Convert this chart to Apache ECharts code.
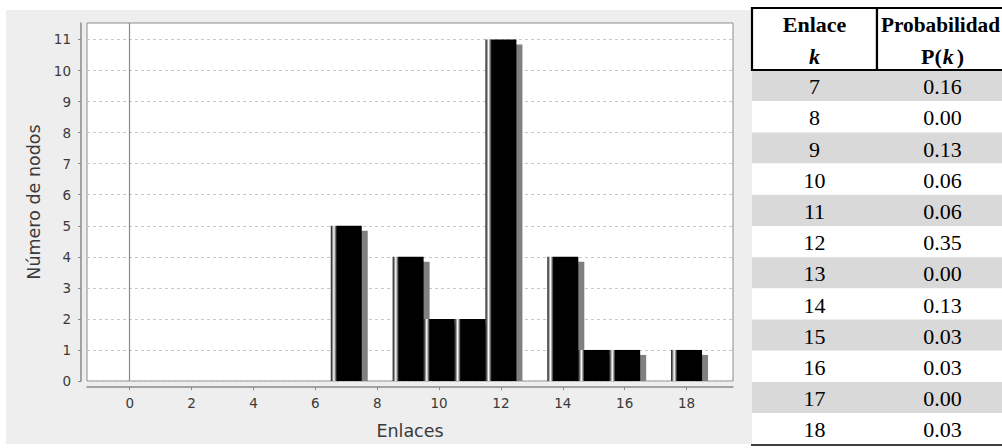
<!DOCTYPE html>
<html>
<head>
<meta charset="utf-8">
<script src="https://cdn.jsdelivr.net/npm/echarts@6/dist/echarts.min.js"></script>
<style>
html,body{margin:0;padding:0;background:#fff;}
#chart{width:1002px;height:448px;}
</style>
</head>
<body>
<div id="chart"></div>
<script>
// ---- data ----
const enlaces = [7, 8, 9, 10, 11, 12, 13, 14, 15, 16, 17, 18];
const nodos = [5, 0, 4, 2, 2, 11, 0, 4, 1, 1, 0, 1];
const probabilidad = ['0.16', '0.00', '0.13', '0.06', '0.06', '0.35', '0.00', '0.13', '0.03', '0.03', '0.00', '0.03'];
const xTickLabels = [0, 2, 4, 6, 8, 10, 12, 14, 16, 18];
const yTickLabels = [0, 1, 2, 3, 4, 5, 6, 7, 8, 9, 10, 11];
const headerEnlace = ['Enlace', 'k'];
const headerProb = ['Probabilidad', 'P(k)'];

const chart = echarts.init(document.getElementById('chart'), null, { renderer: 'svg' });

const axisColor = '#8a8a8a';
const textColor = '#3a3a3a';
const sans = 'DejaVu Sans';
const serif = 'Liberation Serif';

// table layout
const tX0 = 752, tCol1 = 125, tCol2 = 131, tTop = 8, tHeadH = 62, rowH = 31.2;
const tRowTop = tTop + tHeadH;
const c1 = tX0 + tCol1 / 2, c2 = tX0 + tCol1 + tCol2 / 2;

const tableEls = [];
enlaces.forEach((k, i) => {
  const y = tRowTop + i * rowH;
  tableEls.push({ type: 'rect', z: 1, shape: { x: tX0, y: y, width: tCol1 + tCol2, height: rowH },
    style: { fill: i % 2 === 0 ? '#d9d9d9' : '#ffffff' } });
  tableEls.push({ type: 'text', z: 3, x: c1, y: y + rowH / 2 + 1,
    style: { text: String(k), fill: '#000', font: '22px "' + serif + '"', align: 'center', verticalAlign: 'middle' } });
  tableEls.push({ type: 'text', z: 3, x: c2, y: y + rowH / 2 + 1,
    style: { text: probabilidad[i], fill: '#000', font: '22px "' + serif + '"', align: 'center', verticalAlign: 'middle' } });
});
tableEls.push({ type: 'rect', z: 2, shape: { x: tX0, y: tTop, width: tCol1, height: tHeadH },
  style: { fill: '#fff', stroke: '#000', lineWidth: 2.2 } });
tableEls.push({ type: 'rect', z: 2, shape: { x: tX0 + tCol1, y: tTop, width: tCol2, height: tHeadH },
  style: { fill: '#fff', stroke: '#000', lineWidth: 2.2 } });
tableEls.push({ type: 'text', z: 3, x: c1, y: 24.5,
  style: { text: headerEnlace[0], fill: '#000', font: 'bold 22px "' + serif + '"', align: 'center', verticalAlign: 'middle' } });
tableEls.push({ type: 'text', z: 3, x: c1, y: 56,
  style: { text: headerEnlace[1], fill: '#000', font: 'italic bold 22px "' + serif + '"', align: 'center', verticalAlign: 'middle' } });
tableEls.push({ type: 'text', z: 3, x: 940.5, y: 24.5,
  style: { text: headerProb[0], fill: '#000', font: 'bold 21.3px "' + serif + '"', align: 'center', verticalAlign: 'middle' } });
tableEls.push({ type: 'text', z: 3, x: c2, y: 56,
  style: { text: '{b|P(}{i|k}{b|)}', align: 'center', verticalAlign: 'middle',
    rich: {
      b: { fontFamily: serif, fontWeight: 'bold', fontSize: 22, fill: '#000', color: '#000' },
      i: { fontFamily: serif, fontWeight: 'bold', fontStyle: 'italic', fontSize: 22, fill: '#000', color: '#000', padding: [0, 3, 0, 1] }
    } } });
tableEls.push({ type: 'line', z: 3, shape: { x1: tX0 - 1, y1: 445, x2: 1002, y2: 445 },
  style: { stroke: '#000', lineWidth: 1.5 } });

const option = {
  animation: false,
  backgroundColor: '#ffffff',
  graphic: {
    elements: [
      { type: 'rect', z: -100, shape: { x: 6, y: 10, width: tX0 - 6, height: 434 }, style: { fill: '#eeeeee' } },
      { type: 'group', children: tableEls }
    ]
  },
  grid: {
    show: true, left: 87, right: 269, top: 23, bottom: 67,
    backgroundColor: '#ffffff', borderColor: '#8c8c8c', borderWidth: 1
  },
  xAxis: {
    type: 'value', min: -1.38, max: 19.5, offset: 6,
    name: 'Enlaces', nameLocation: 'middle', nameGap: 35,
    nameTextStyle: { fontFamily: sans, fontSize: 17.5, color: textColor },
    axisLine: { show: true, onZero: false, lineStyle: { color: axisColor, width: 1.5 } },
    axisTick: { show: true, length: 3, customValues: xTickLabels, lineStyle: { color: axisColor } },
    axisLabel: { customValues: xTickLabels, margin: 9, fontFamily: sans, fontSize: 13.5, color: textColor },
    splitLine: { show: false }
  },
  yAxis: {
    type: 'value', min: 0, max: 11.53, offset: 6,
    name: 'Número de nodos', nameLocation: 'middle', nameGap: 38, nameRotate: 90,
    nameTextStyle: { fontFamily: sans, fontSize: 17.5, color: textColor },
    axisLine: { show: true, onZero: false, lineStyle: { color: axisColor, width: 1.5 } },
    axisTick: { show: true, length: 3, customValues: yTickLabels, lineStyle: { color: axisColor } },
    axisLabel: { customValues: yTickLabels, margin: 10, fontFamily: sans, fontSize: 13.5, color: textColor },
    splitLine: { show: true, lineStyle: { color: '#c8c8c8', type: [3, 3], width: 1 } }
  },
  series: [{
    type: 'custom',
    name: 'Número de nodos',
    data: enlaces.map((k, i) => [k, nodos[i]]),
    renderItem: function (params, api) {
      const k = api.value(0), v = api.value(1);
      if (!v) return null;
      const tl = api.coord([k - 0.5, v]);
      const br = api.coord([k + 0.5, 0]);
      const w = br[0] - tl[0], h = br[1] - tl[1];
      const cs = params.coordSys;
      const sh = echarts.graphic.clipRectByRect({ x: tl[0] + 6, y: tl[1] + 5, width: w, height: h },
        { x: cs.x, y: cs.y, width: cs.width, height: cs.height });
      const children = [];
      if (sh) children.push({ type: 'rect', shape: sh, style: { fill: '#808080' } });
      children.push({ type: 'rect', shape: { x: tl[0], y: tl[1], width: w, height: h },
        style: { fill: new echarts.graphic.LinearGradient(0, 0, 1, 0, [
          { offset: 0, color: '#000' }, { offset: 0.1, color: '#fff' },
          { offset: 0.2, color: '#000' }, { offset: 1, color: '#000' }]) } });
      return { type: 'group', children: children };
    },
    markLine: {
      silent: true, symbol: 'none', label: { show: false },
      lineStyle: { color: '#8a8a8a', type: 'solid', width: 1.2 },
      data: [{ xAxis: 0 }]
    }
  }]
};
chart.setOption(option);
</script>
</body>
</html>
